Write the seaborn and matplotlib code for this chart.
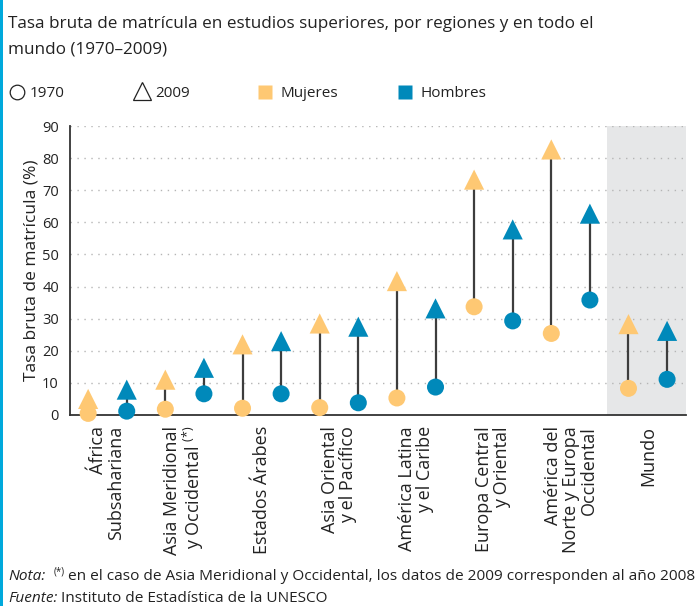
import numpy as np
import pandas as pd
import matplotlib
matplotlib.use("Agg")
import matplotlib.pyplot as plt
from matplotlib.lines import Line2D
from matplotlib.patches import Rectangle
import seaborn as sns

# Gross enrolment ratio in tertiary education (%), by region and sex
regiones = [
    "África\nSubsahariana",
    "Asia Meridional\ny Occidental $^{(*)}$",
    "Estados Árabes",
    "Asia Oriental\ny el Pacífico",
    "América Latina\ny el Caribe",
    "Europa Central\ny Oriental",
    "América del\nNorte y Europa\nOccidental",
    "Mundo",
]
mujeres_1970 = [0.5, 1.8, 2.1, 2.3, 5.3, 33.7, 25.4, 8.3]
mujeres_2009 = [5.0, 11.0, 22.0, 28.5, 41.7, 73.3, 82.7, 28.3]
hombres_1970 = [1.2, 6.6, 6.6, 3.8, 8.7, 29.3, 35.8, 11.1]
hombres_2009 = [7.9, 14.7, 23.0, 27.5, 33.2, 57.8, 62.7, 26.2]
y_ticks = [0, 10, 20, 30, 40, 50, 60, 70, 80, 90]

COL_M = "#FEC873"
COL_H = "#0089BA"
COL_LINE = "#3d3d3d"
COL_TXT = "#222222"
FONT = "Open Sans"
W, H = 696, 606

sns.set_theme(style="white")
plt.rcParams["font.family"] = [FONT, "DejaVu Sans"]
plt.rcParams["mathtext.fontset"] = "custom"
plt.rcParams["mathtext.rm"] = FONT
plt.rcParams["mathtext.it"] = FONT + ":italic"

rows = []
for i, reg in enumerate(regiones):
    for j, (sexo, v70, v09) in enumerate([
        ("Mujeres", mujeres_1970[i], mujeres_2009[i]),
        ("Hombres", hombres_1970[i], hombres_2009[i]),
    ]):
        pos = 2 * i + j
        rows.append({"pos": pos, "sexo": sexo, "año": "1970", "valor": v70})
        rows.append({"pos": pos, "sexo": sexo, "año": "2009", "valor": v09})
df = pd.DataFrame(rows)

fig = plt.figure(figsize=(W / 100, H / 100), dpi=100)
ax = fig.add_axes([70 / W, 1 - 415 / H, 616 / W, 289 / H])

# shaded world column
ax.axvspan(13.45, 15.6, color="#E6E7E8", zorder=0, lw=0)

# dotted gridlines
for t in y_ticks[1:]:
    ax.axhline(t, color="#b5b5b5", lw=1.0, ls=(0, (1, 4)), zorder=1)

# connecting stems from 1970 to 2009
wide = df.pivot_table(index=["pos", "sexo"], columns="año", values="valor").reset_index()
ax.vlines(wide["pos"], wide["1970"], wide["2009"], color=COL_LINE, lw=1.6, zorder=2)

palette = {"Mujeres": COL_M, "Hombres": COL_H}
sns.scatterplot(data=df[df["año"] == "1970"], x="pos", y="valor", hue="sexo",
                palette=palette, marker="o", s=150, linewidth=0, ax=ax,
                legend=False, zorder=3, clip_on=False)
sns.scatterplot(data=df[df["año"] == "2009"], x="pos", y="valor", hue="sexo",
                palette=palette, marker="^", s=210, linewidth=0, ax=ax,
                legend=False, zorder=3, clip_on=False)

ax.set_xlim(-0.47, 15.49)
ax.set_ylim(0, 90)
ax.set_yticks(y_ticks)
ax.set_yticklabels([str(t) for t in y_ticks], fontsize=10.5, color=COL_TXT)
ax.set_xticks([2 * i + 0.5 for i in range(len(regiones))])
ax.set_xticklabels(regiones, rotation=90, fontsize=13, color=COL_TXT,
                   va="top", ha="center", multialignment="right",
                   linespacing=1.0)
ax.tick_params(axis="both", length=0)
ax.tick_params(axis="x", pad=8)
ax.tick_params(axis="y", pad=8)
ax.set_xlabel("")
ax.set_ylabel("Tasa bruta de matrícula (%)", fontsize=12.5, color=COL_TXT, labelpad=2)
for side in ["top", "right"]:
    ax.spines[side].set_visible(False)
for side in ["left", "bottom"]:
    ax.spines[side].set_color("#333333")
    ax.spines[side].set_linewidth(1.3)


def ftext(x_px, y_px, s, **kw):
    kw.setdefault("color", COL_TXT)
    kw.setdefault("va", "baseline")
    kw.setdefault("ha", "left")
    return fig.text(x_px / W, 1 - y_px / H, s, **kw)


# title
ftext(8, 28, "Tasa bruta de matrícula en estudios superiores, por regiones y en todo el",
      fontsize=12.3)
ftext(8, 53, "mundo (1970–2009)", fontsize=12.3)

# legend row
ly = 1 - 92 / H
fig.add_artist(Line2D([17 / W], [ly], marker="o", markersize=10.5, mfc="none",
                      mec=COL_TXT, mew=0.9, transform=fig.transFigure))
ftext(30, 97, "1970", fontsize=11)
fig.add_artist(Line2D([142 / W], [ly + 0.002], marker="^", markersize=13, mfc="none",
                      mec=COL_TXT, mew=0.9, transform=fig.transFigure))
ftext(155, 97, "2009", fontsize=11)
fig.add_artist(Line2D([265 / W], [ly], marker="s", markersize=10, mfc=COL_M,
                      mec="none", transform=fig.transFigure))
ftext(281, 97, "Mujeres", fontsize=11)
fig.add_artist(Line2D([405 / W], [ly], marker="s", markersize=10, mfc=COL_H,
                      mec="none", transform=fig.transFigure))
ftext(420, 97, "Hombres", fontsize=11)


def text_run(x_px, y_px, pieces):
    """Draw consecutive text pieces on one line, each with its own style and rise."""
    renderer = fig.canvas.get_renderer()
    x = x_px
    for s, rise, kw in pieces:
        t = ftext(x, y_px - rise, s, **kw)
        x = t.get_window_extent(renderer).x1 - fig.bbox.x0


# notes
text_run(8, 580, [
    ("Nota:", 0, dict(fontsize=11.1, style="italic")),
    ("  ", 0, dict(fontsize=11.1)),
    ("(*)", 5, dict(fontsize=7)),
    (" en el caso de Asia Meridional y Occidental, los datos de 2009 corresponden al año 2008",
     0, dict(fontsize=11.1)),
])
text_run(8, 602, [
    ("Fuente:", 0, dict(fontsize=11.1, style="italic")),
    (" Instituto de Estadística de la UNESCO", 0, dict(fontsize=11.1)),
])

# accent bar on the left edge
fig.add_artist(Rectangle((0, 0), 3 / W, 1, transform=fig.transFigure,
                         color="#00A9DC", lw=0))

fig.savefig("out.png", dpi=100)
